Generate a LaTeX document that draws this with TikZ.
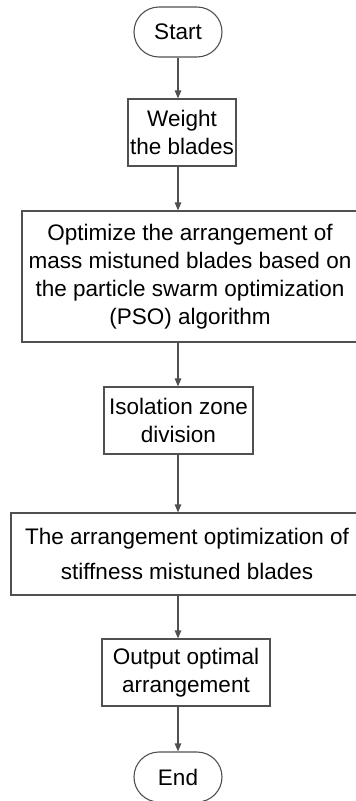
\documentclass[tikz,border=0pt]{standalone}
\usepackage{fontspec}
\setmainfont{Liberation Sans}
\usetikzlibrary{arrows.meta}
\definecolor{edge}{HTML}{505050}
\tikzset{
  box/.style={draw=edge, line width=1.1pt, inner sep=0pt, align=center,
    font=\fontsize{22.5}{28}\selectfont},
  term/.style={box, rounded corners=25pt, minimum width=88pt, minimum height=50pt},
  flow/.style={draw=edge, line width=1.1pt, -{Triangle[width=6.5pt,length=8pt]}}
}
\begin{document}
\begin{tikzpicture}[x=1pt,y=-1pt]
\useasboundingbox (0,0) rectangle (356,801);
\clip (0,0) rectangle (356,801);
\node[term] (start) at (178,32) {Start};
\node[box, minimum width=108pt, minimum height=67pt] (b1) at (182,132.5) {Weight\\the blades};
\node[box, minimum width=336pt, minimum height=131pt] (b2) at (190,276.5)
  {Optimize the arrangement of\\mass mistuned blades based on\\the particle swarm optimization\\(PSO) algorithm};
\node[box, minimum width=149pt, minimum height=67pt] (b3) at (178.5,420.5) {Isolation zone\\division};
\node[box, minimum width=352pt, minimum height=82pt, font=\fontsize{22.5}{35}\selectfont] (b4) at (187,554)
  {The arrangement optimization of\\stiffness mistuned blades};
\node[box, minimum width=168pt, minimum height=67pt] (b5) at (186,672.5) {Output optimal\\arrangement};
\node[term] (end) at (178,777) {End};
\draw[flow] (start.south) -- (start.south |- b1.north);
\draw[flow] (b1.south -| start.south) -- (b2.north -| start.south);
\draw[flow] (b2.south -| start.south) -- (b3.north -| start.south);
\draw[flow] (b3.south -| start.south) -- (b4.north -| start.south);
\draw[flow] (b4.south -| start.south) -- (b5.north -| start.south);
\draw[flow] (b5.south -| end.north) -- (end.north);
\end{tikzpicture}
\end{document}
